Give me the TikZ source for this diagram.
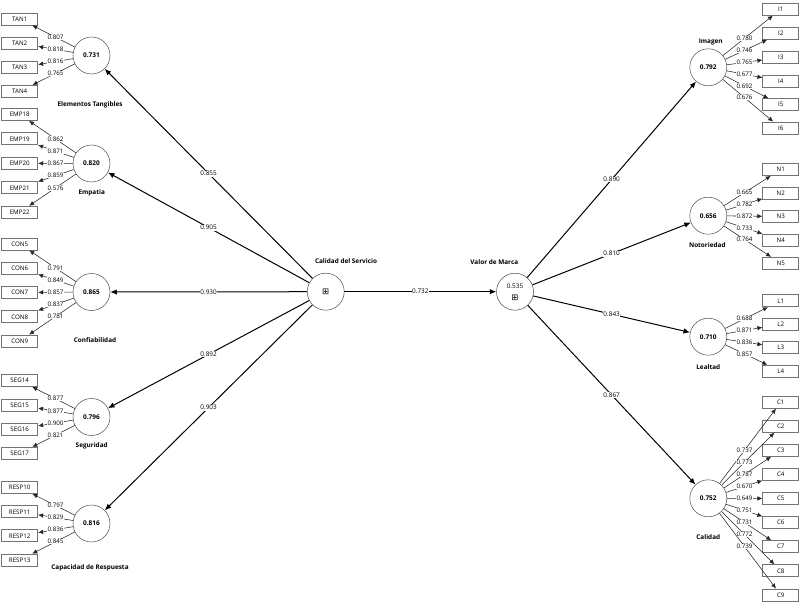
\documentclass[tikz,border=0pt]{standalone}
\usepackage{fontspec}
\setmainfont{Open Sans}
\newfontfamily\symfont{DejaVu Sans}
\usetikzlibrary{arrows.meta}
\tikzset{
 lv/.style={circle, draw=black!70, line width=0.5pt, minimum size=37pt, inner sep=0pt, font=\fontsize{6.5}{7}\selectfont\bfseries},
 mv/.style={draw=black!55, line width=0.8pt, minimum width=36pt, minimum height=12pt, inner sep=0pt, font=\fontsize{6.2}{7}\selectfont},
 ttl/.style={font=\fontsize{6.4}{7}\selectfont\bfseries},
 lbl/.style={fill=white, inner sep=0.4pt, font=\fontsize{6.2}{7}\selectfont},
 slbl/.style={fill=white, inner sep=0.6pt, font=\fontsize{6.4}{7}\selectfont},
 ld/.style={-{Latex[length=5pt,width=4.5pt]}, draw=black!85, line width=0.55pt},
 st/.style={-{Latex[length=6.5pt,width=5.5pt]}, draw=black, line width=1pt},
}
\newcommand\myload[3]{\draw[ld] (#1) -- (#2); \path (#1.center) -- node[lbl]{#3} (#2.center);}
\begin{document}
\begin{tikzpicture}[x=1pt,y=-1pt]
\useasboundingbox (0,0) rectangle (800,602);
% latent variables
\node[lv] (tan) at (91.5,55.5) {0.731};
\node[lv] (emp) at (91.5,163.5) {0.820};
\node[lv] (con) at (91.5,292) {0.865};
\node[lv] (seg) at (91.5,417) {0.796};
\node[lv] (resp) at (91.5,523.5) {0.816};
\node[lv] (cs) at (325.7,291.7) {};
\node[lv] (vm) at (515,291.7) {};
\node[lv] (img) at (708.3,67.3) {0.792};
\node[lv] (not) at (708.3,215.7) {0.656};
\node[lv] (leal) at (708.3,336.7) {0.710};
\node[lv] (cal) at (708.3,498.3) {0.752};
% inner texts of second order constructs
\node[font=\fontsize{8.5}{8.5}\selectfont\symfont, inner sep=0pt] (csplus) at (cs.center) {⊞};
\node[font=\fontsize{6.4}{7}\selectfont, inner sep=0pt] (vmval) at (515,286) {0.535};
\node[font=\fontsize{8.5}{8.5}\selectfont\symfont, inner sep=0pt] (vmplus) at (515,297.5) {⊞};
% titles
\node[ttl] (ttan) at (90,104.5) {Elementos Tangibles};
\node[ttl] (temp) at (91.7,192.7) {Empatia};
\node[ttl] (tcon) at (95,340) {Confiabilidad};
\node[ttl] (tseg) at (91.7,446) {Seguridad};
\node[ttl] (tresp) at (90,568.3) {Capacidad de Respuesta};
\node[ttl] (tcs) at (346,260.7) {Calidad del Servicio};
\node[ttl] (tvm) at (494.3,262.3) {Valor de Marca};
\node[ttl] (timg) at (710.7,41.7) {Imagen};
\node[ttl] (tnot) at (707.3,245) {Notoriedad};
\node[ttl] (tleal) at (708.3,366.7) {Lealtad};
\node[ttl] (tcal) at (708.3,536.7) {Calidad};
% indicator boxes left
\foreach \n/\y in {1/19,2/43.3,3/67.7,4/91.3} \node[mv] (TAN\n) at (19.7,\y) {TAN\n};
\foreach \n/\y in {18/114.5,19/138.8,20/163.3,21/187.8,22/212.2} \node[mv] (EMP\n) at (19.7,\y) {EMP\n};
\foreach \n/\y in {5/244,6/268.3,7/292.5,8/316.8,9/341} \node[mv] (CON\n) at (19.7,\y) {CON\n};
\foreach \n/\y in {14/380.5,15/405,16/429,17/453.3} \node[mv] (SEG\n) at (19.7,\y) {SEG\n};
\foreach \n/\y in {10/487.5,11/511.8,12/535.8,13/560} \node[mv] (RESP\n) at (19.7,\y) {RESP\n};
% indicator boxes right
\foreach \n/\y in {1/9.2,2/33.3,3/57.5,4/81.2,5/104.8,6/128} \node[mv] (I\n) at (780.8,\y) {I\n};
\foreach \n/\y in {1/169.5,2/193,3/216.5,4/240,5/263.3} \node[mv] (N\n) at (780.8,\y) {N\n};
\foreach \n/\y in {1/300.8,2/324.2,3/347.5,4/371.2} \node[mv] (L\n) at (780.8,\y) {L\n};
\foreach \n/\y in {1/402.2,2/426.2,3/450.3,4/474.5,5/498.5,6/522.5,7/546.7,8/570.8,9/595} \node[mv] (C\n) at (780.8,\y) {C\n};
% loadings
\foreach \n/\v in {1/0.807,2/0.818,3/0.816,4/0.765} {\myload{tan}{TAN\n}{\v}}
\foreach \n/\v in {18/0.862,19/0.871,20/0.867,21/0.859,22/0.576} {\myload{emp}{EMP\n}{\v}}
\foreach \n/\v in {5/0.791,6/0.849,7/0.857,8/0.837,9/0.781} {\myload{con}{CON\n}{\v}}
\foreach \n/\v in {14/0.877,15/0.877,16/0.900,17/0.821} {\myload{seg}{SEG\n}{\v}}
\foreach \n/\v in {10/0.797,11/0.829,12/0.836,13/0.845} {\myload{resp}{RESP\n}{\v}}
\foreach \n/\v in {1/0.780,2/0.746,3/0.765,4/0.677,5/0.692,6/0.676} {\myload{img}{I\n}{\v}}
\foreach \n/\v in {1/0.665,2/0.782,3/0.872,4/0.733,5/0.764} {\myload{not}{N\n}{\v}}
\foreach \n/\v in {1/0.688,2/0.871,3/0.836,4/0.857} {\myload{leal}{L\n}{\v}}
\foreach \n/\v in {1/0.737,2/0.773,3/0.787,4/0.670,5/0.649,6/0.751,7/0.731,8/0.772,9/0.739} {\myload{cal}{C\n}{\v}}
% structural paths
\draw[st] (cs) -- node[slbl]{0.855} (tan);
\draw[st] (cs) -- node[slbl]{0.905} (emp);
\draw[st] (cs) -- node[slbl]{0.930} (con);
\draw[st] (cs) -- node[slbl]{0.892} (seg);
\draw[st] (cs) -- node[slbl]{0.903} (resp);
\draw[st] (cs) -- node[slbl]{0.732} (vm);
\draw[st] (vm) -- node[slbl]{0.890} (img);
\draw[st] (vm) -- node[slbl]{0.810} (not);
\draw[st] (vm) -- node[slbl]{0.843} (leal);
\draw[st] (vm) -- node[slbl]{0.867} (cal);
\end{tikzpicture}
\end{document}
